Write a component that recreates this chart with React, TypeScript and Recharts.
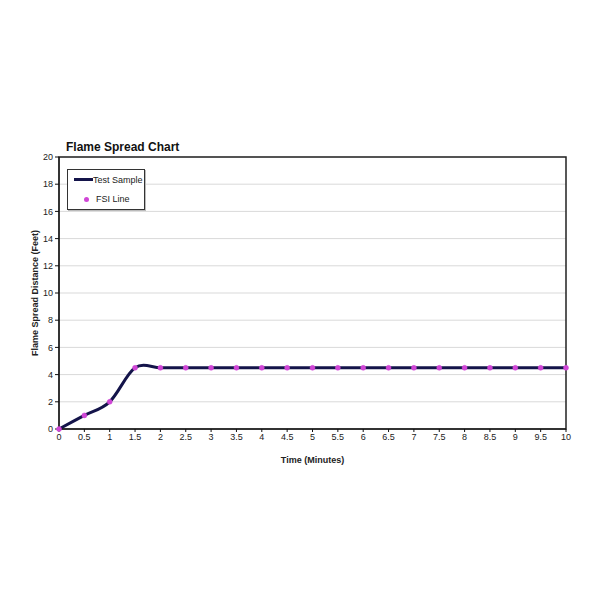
import React from 'react';
import {
  LineChart,
  Line,
  XAxis,
  YAxis,
  CartesianGrid,
  ReferenceArea,
  Legend,
} from 'recharts';

const times = [0, 0.5, 1, 1.5, 2, 2.5, 3, 3.5, 4, 4.5, 5, 5.5, 6, 6.5, 7, 7.5, 8, 8.5, 9, 9.5, 10];
const testSample = [0, 1, 2, 4.5, 4.5, 4.5, 4.5, 4.5, 4.5, 4.5, 4.5, 4.5, 4.5, 4.5, 4.5, 4.5, 4.5, 4.5, 4.5, 4.5, 4.5];
const fsiLine = [0, 1, 2, 4.5, 4.5, 4.5, 4.5, 4.5, 4.5, 4.5, 4.5, 4.5, 4.5, 4.5, 4.5, 4.5, 4.5, 4.5, 4.5, 4.5, 4.5];
const yTicks = [0, 2, 4, 6, 8, 10, 12, 14, 16, 18, 20];

const data = times.map((t, i) => ({ time: t, test: testSample[i], fsi: fsiLine[i] }));

const FONT = 'Liberation Sans, Arial, sans-serif';

// Catmull-Rom style smoothing, close to Excel's "smoothed line"
const smoothCurve = (context: any) => {
  let pts: number[][] = [];
  return {
    areaStart() {},
    areaEnd() {},
    lineStart() {
      pts = [];
    },
    lineEnd() {
      if (!pts.length) return;
      context.moveTo(pts[0][0], pts[0][1]);
      for (let i = 0; i < pts.length - 1; i++) {
        const p0 = pts[i - 1] || pts[i];
        const p1 = pts[i];
        const p2 = pts[i + 1];
        const p3 = pts[i + 2] || p2;
        context.bezierCurveTo(
          p1[0] + (p2[0] - p0[0]) / 6,
          p1[1] + (p2[1] - p0[1]) / 6,
          p2[0] - (p3[0] - p1[0]) / 6,
          p2[1] - (p3[1] - p1[1]) / 6,
          p2[0],
          p2[1]
        );
      }
    },
    point(x: number, y: number) {
      pts.push([+x, +y]);
    },
  };
};

const LegendBox = () => (
  <div
    style={{
      width: 78,
      height: 41,
      border: '1px solid #333',
      background: '#fff',
      fontFamily: FONT,
      fontSize: 9,
      color: '#222',
      boxSizing: 'border-box',
      boxShadow: '1px 1px 0 #bbb',
    }}
  >
    <div style={{ display: 'flex', alignItems: 'center', height: 19, paddingLeft: 6 }}>
      <span style={{ display: 'inline-block', width: 19, height: 3, background: '#14144a' }} />
      <span>Test Sample</span>
    </div>
    <div style={{ display: 'flex', alignItems: 'center', height: 20, paddingLeft: 16 }}>
      <span style={{ display: 'inline-block', width: 5, height: 5, borderRadius: 3, background: '#d046d6', marginRight: 7 }} />
      <span>FSI Line</span>
    </div>
  </div>
);

const App = () => {
  return (
    <div style={{ position: 'absolute', top: 0, left: 0, width: 600, height: 600, background: '#fff' }}>
      <div
        style={{
          position: 'absolute',
          left: 66,
          top: 140,
          fontFamily: FONT,
          fontWeight: 'bold',
          fontSize: 12,
          color: '#111',
        }}
      >
        Flame Spread Chart
      </div>
      <LineChart
        width={600}
        height={600}
        data={data}
        margin={{ top: 157, right: 34, left: 29, bottom: 141 }}
      >
        <CartesianGrid vertical={false} stroke="#d9d9d9" />
        <XAxis
          dataKey="time"
          type="number"
          domain={[0, 10]}
          ticks={times}
          interval={0}
          height={30}
          stroke="#111"
          tickSize={3}
          tick={{ fontSize: 9, fill: '#222', fontFamily: FONT }}
          label={{
            value: 'Time (Minutes)',
            position: 'insideBottom',
            offset: -4,
            style: { fontSize: 9, fontWeight: 'bold', fill: '#222', fontFamily: FONT },
          }}
        />
        <YAxis
          type="number"
          domain={[0, 20]}
          ticks={yTicks}
          interval={0}
          width={30}
          stroke="#111"
          tickSize={4}
          tick={{ fontSize: 9, fill: '#222', fontFamily: FONT }}
          label={{
            value: 'Flame Spread Distance (Feet)',
            angle: -90,
            position: 'insideLeft',
            offset: 6,
            style: { fontSize: 9, fontWeight: 'bold', fill: '#222', fontFamily: FONT, textAnchor: 'middle' },
          }}
        />
        <ReferenceArea x1={0} x2={10} y1={0} y2={20} fill="none" stroke="#222" strokeWidth={1.5} />
        <Legend
          layout="horizontal"
          verticalAlign="middle"
          align="center"
          content={() => <LegendBox />}
          wrapperStyle={{ left: 67, top: 169, width: 78 }}
        />
        <Line
          type={smoothCurve as any}
          dataKey="test"
          stroke="#14144a"
          strokeWidth={3}
          dot={false}
          isAnimationActive={false}
        />
        <Line
          type="linear"
          dataKey="fsi"
          stroke="none"
          dot={{ r: 2.5, fill: '#d046d6', stroke: '#d046d6', strokeWidth: 0.5 }}
          isAnimationActive={false}
        />
      </LineChart>
    </div>
  );
};

export default App;
